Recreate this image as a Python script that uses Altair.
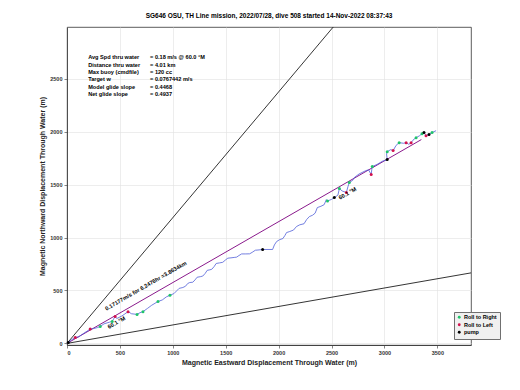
import altair as alt
import pandas as pd

# ---------------- data ----------------
track_e = [0, 15, 45, 78, 110, 150, 219, 250, 290, 314, 350, 400, 427, 455, 470, 520, 577, 610, 662, 690,
           718, 760, 800, 860, 900, 940, 973, 1010, 1040, 1060, 1095, 1120, 1140, 1160, 1189, 1210, 1230,
           1260, 1283, 1305, 1325, 1350, 1368, 1390, 1410, 1440, 1472, 1500, 1520, 1550, 1580, 1604, 1625,
           1650, 1690, 1726, 1750, 1780, 1815, 1849, 1943, 1960, 1981, 2010, 2040, 2060, 2075, 2100, 2140,
           2169, 2200, 2240, 2265, 2291, 2320, 2345, 2366, 2400, 2430, 2451, 2462, 2500, 2526, 2560, 2574,
           2600, 2640, 2655, 2668, 2700, 2715, 2760, 2820, 2850, 2875, 2880, 2885, 2930, 2980, 3026, 3020,
           3026, 3060, 3082, 3110, 3139, 3180, 3205, 3230, 3252, 3280, 3299, 3330, 3355, 3374, 3393, 3421,
           3450, 3488]
track_n = [0, 10, 35, 57, 62, 90, 135, 140, 150, 160, 185, 200, 208, 255, 235, 260, 300, 280, 274, 290,
           300, 330, 360, 396, 410, 440, 455, 470, 500, 520, 528, 540, 565, 575, 578, 600, 625,
           630, 636, 660, 690, 695, 700, 725, 755, 760, 766, 790, 805, 808, 812, 815, 830,
           845, 845, 846, 860, 880, 883, 887, 887, 930, 962, 980, 990, 1020, 1047, 1055, 1070,
           1104, 1120, 1130, 1170, 1198, 1210, 1230, 1283, 1295, 1310, 1358, 1345, 1360, 1377, 1400, 1462,
           1440, 1425, 1480, 1519, 1540, 1566, 1600, 1630, 1640, 1594, 1640, 1670, 1690, 1720, 1736, 1790,
           1811, 1830, 1821, 1870, 1896, 1890, 1896, 1880, 1896, 1930, 1943, 1960, 1981, 1991, 1962, 1972,
           1991, 2009]

green_e = [314, 427, 662, 718, 860, 973, 2462, 2574, 2668, 2885, 3026, 3139, 3299, 3355, 3450]
green_n = [160, 208, 274, 300, 396, 455, 1345, 1462, 1519, 1670, 1811, 1896, 1943, 1981, 1991]
red_e = [78, 219, 455, 577, 2640, 2875, 3082, 3205, 3252, 3393]
red_n = [57, 135, 255, 300, 1425, 1594, 1821, 1896, 1896, 1962]
pump_e = [12, 1849, 2526, 3026, 3374, 3421]
pump_n = [9, 887, 1377, 1736, 1991, 1972]

# heading line (60.1 deg M, 3.8634 km) and +/-20 deg cone
ref_name = ["head", "head", "cone_a", "cone_a", "cone_b", "cone_b"]
ref_e = [0, 3349, 0, 2516, 0, 3818]
ref_n = [0, 1925, 0, 2988, 0, 666]

info_labels = ["Avg Spd thru water", "Distance thru water", "Max buoy (cmdfile)",
               "Target w", "Model glide slope", "Net glide slope"]
info_values = ["=  0.18 m/s @  60.0 \u00b0M", "=  4.01 km", "= 120 cc",
               "= 0.0767442 m/s", "= 0.4468", "= 0.4937"]
info_n = [2700, 2633, 2560, 2493, 2425, 2355]

title_text = "SG646 OSU, TH Line mission, 2022/07/28, dive 508 started 14-Nov-2022 08:37:43"
x_title = "Magnetic Eastward Displacement Through Water (m)"
y_title = "Magnetic Northward Displacement Through Water (m)"
x_ticks = [0, 500, 1000, 1500, 2000, 2500, 3000, 3500]
y_ticks = [0, 500, 1000, 1500, 2000, 2500]

# ---------------- chart ----------------
FONT = "Liberation Sans"
xs = alt.Scale(domain=[0, 3818], nice=False, zero=False)
ys = alt.Scale(domain=[-15, 2988], nice=False, zero=False)
xaxis = alt.Axis(values=x_ticks, title=x_title, format="d")
yaxis = alt.Axis(values=y_ticks, title=y_title, format="d")


def X(field="e"):
    return alt.X(f"{field}:Q", scale=xs, axis=xaxis)


def Y(field="n"):
    return alt.Y(f"{field}:Q", scale=ys, axis=yaxis)


track_df = pd.DataFrame({"e": track_e, "n": track_n, "i": list(range(len(track_e)))})
ref_df = pd.DataFrame({"e": ref_e, "n": ref_n, "name": ref_name})
pts_df = pd.DataFrame({
    "e": green_e + red_e + pump_e,
    "n": green_n + red_n + pump_n,
    "kind": ["Roll to Right"] * len(green_e) + ["Roll to Left"] * len(red_e) + ["pump"] * len(pump_e),
})
info_df = pd.DataFrame({"lab": info_labels, "val": info_values, "n": info_n,
                        "e1": [200] * 6, "e2": [785] * 6})

cone = alt.Chart(ref_df[ref_df["name"] != "head"]).mark_line(
    color="black", strokeWidth=0.8, clip=True
).encode(x=X(), y=Y(), detail="name:N")

head = alt.Chart(ref_df[ref_df["name"] == "head"]).mark_line(
    color="#8a1a8c", strokeWidth=1.0
).encode(x=X(), y=Y())

track = alt.Chart(track_df).mark_line(color="#5060d8", strokeWidth=0.8).encode(
    x=X(), y=Y(), order="i:Q"
)

pts = alt.Chart(pts_df).mark_point(filled=True, size=9, opacity=1).encode(
    x=X(), y=Y(),
    color=alt.Color("kind:N",
                    scale=alt.Scale(domain=["Roll to Right", "Roll to Left", "pump"],
                                    range=["#1fc46a", "#d3124e", "#000000"]),
                    legend=alt.Legend(title=None, orient="none", legendX=387, legendY=285,
                                      labelFontSize=5.5, labelFont=FONT, labelFontWeight="bold",
                                      symbolSize=8, symbolType="circle", rowPadding=0.5,
                                      padding=2.5, strokeColor="#707070", fillColor="#f0f0f0",
                                      labelOffset=2, symbolOffset=0)),
)

info1 = alt.Chart(info_df).mark_text(
    align="left", baseline="middle", fontSize=5.6, font=FONT, fontWeight="bold", color="black"
).encode(x=X("e1"), y=Y(), text="lab:N")
info2 = alt.Chart(info_df).mark_text(
    align="left", baseline="middle", fontSize=5.6, font=FONT, fontWeight="bold", color="black"
).encode(x=X("e2"), y=Y(), text="val:N")

ann_df = pd.DataFrame({
    "e": [745, 467, 2650],
    "n": [545, 198, 1418],
    "t": ["0.17177m/s for 6.2476hr =3.8634km", "60.1 \u00b0M", "60.1 \u00b0M"],
})
ann = alt.Chart(ann_df).mark_text(
    angle=330, align="center", baseline="middle", fontSize=5.6, font=FONT,
    fontWeight="bold", color="black"
).encode(x=X(), y=Y(), text="t:N")

chart = alt.layer(cone, head, track, pts, info1, info2, ann).properties(
    width=404, height=318,
    title=alt.TitleParams(title_text, fontSize=6.5, font=FONT, fontWeight="bold",
                          anchor="middle", offset=8, color="black"),
    autosize=alt.AutoSizeParams(type="none"),
    padding={"left": 59, "top": 19, "right": 40, "bottom": 30},
).configure_view(
    stroke="#333333", strokeWidth=0.8
).configure_axis(
    labelFont=FONT, labelFontSize=5.5, labelFontWeight="bold", labelColor="#333333",
    titleFont=FONT, titleFontSize=7, titleFontWeight="bold", titleColor="#222222",
    gridColor="#e0e0e0", gridWidth=0.6, domainColor="#333333", domainWidth=0.8,
    tickColor="#333333", tickSize=3, tickWidth=0.6, labelPadding=2
).configure_axisX(
    titlePadding=3
).configure_axisY(
    titlePadding=4
)

chart.save("out.html", embed_options={"renderer": "svg", "actions": False})
